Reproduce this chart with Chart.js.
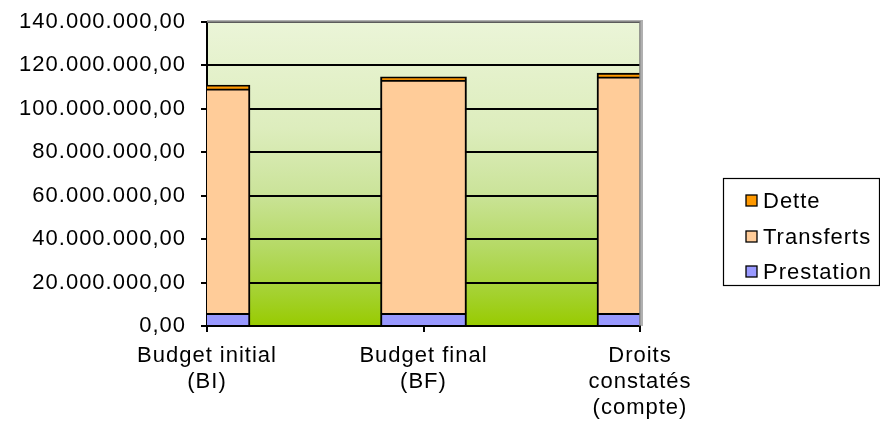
<!DOCTYPE html>
<html>
<head>
<meta charset="utf-8">
<script src="https://cdn.jsdelivr.net/npm/chart.js@4/dist/chart.umd.min.js"></script>
<style>
  html, body { margin: 0; padding: 0; background: #fff; }
  #wrap { width: 880px; height: 422px; position: relative; }
</style>
</head>
<body>
<div id="wrap"><canvas id="c" width="880" height="422"></canvas></div>
<script>
const categories = [["Budget initial", "(BI)"], ["Budget final", "(BF)"], ["Droits", "constatés", "(compte)"]];
const prestation = [5800000, 5800000, 5800000];
const transferts = [103400000, 107400000, 108900000];
const dette = [1800000, 1500000, 1800000];
const yTicks = [0, 20000000, 40000000, 60000000, 80000000, 100000000, 120000000, 140000000];

const FONT = "'Liberation Sans', Arial, sans-serif";
const SPACING = '1px';

function fmt(v) {
  const s = Math.round(v).toString().replace(/\B(?=(\d{3})+(?!\d))/g, ".");
  return s + ",00";
}

const bgPlugin = {
  id: 'bg',
  beforeUpdate(chart) { chart.ctx.letterSpacing = SPACING; },
  beforeDraw(chart) {
    const { ctx, chartArea: a } = chart;
    ctx.letterSpacing = SPACING;
    const g = ctx.createLinearGradient(0, a.top, 0, a.bottom);
    g.addColorStop(0, '#ebf5d8');
    g.addColorStop(0.35, '#ddedbd');
    g.addColorStop(0.55, '#cce49c');
    g.addColorStop(0.75, '#b4d962');
    g.addColorStop(0.9, '#a3d12c');
    g.addColorStop(1, '#98cb00');
    ctx.save();
    ctx.fillStyle = g;
    ctx.fillRect(a.left, a.top, a.right - a.left, a.bottom - a.top);
    ctx.restore();
  },
  afterDraw(chart) {
    const { ctx, chartArea: a } = chart;
    ctx.save();
    // top / right border with shadow
    ctx.strokeStyle = '#b0b0b0';
    ctx.lineWidth = 2;
    ctx.beginPath();
    ctx.moveTo(a.left, a.top - 1);
    ctx.lineTo(a.right + 2, a.top - 1);
    ctx.lineTo(a.right + 2, a.bottom);
    ctx.stroke();
    ctx.strokeStyle = '#7a7a7a';
    ctx.lineWidth = 1.5;
    ctx.beginPath();
    ctx.moveTo(a.left, a.top);
    ctx.lineTo(a.right, a.top);
    ctx.lineTo(a.right, a.bottom);
    ctx.stroke();

    // legend
    const lx = 723, ly = 178, lw = 156, lh = 107;
    ctx.strokeStyle = '#000';
    ctx.lineWidth = 1.2;
    ctx.strokeRect(lx + 0.5, ly + 0.5, lw, lh);
    const items = chart.data.datasets.slice().reverse();
    const ys = [201, 237, 272];
    ctx.font = '22px ' + FONT;
    ctx.letterSpacing = SPACING;
    ctx.textBaseline = 'middle';
    ctx.textAlign = 'left';
    items.forEach((ds, i) => {
      const y = ys[i];
      ctx.fillStyle = ds.backgroundColor;
      ctx.fillRect(746, y - 6, 11, 11);
      ctx.strokeStyle = '#000';
      ctx.lineWidth = 1.3;
      ctx.strokeRect(746, y - 6, 11, 11);
      ctx.fillStyle = '#000';
      ctx.fillText(ds.label, 763, y + 1);
    });
    ctx.restore();
  }
};

const commonBar = {
  borderColor: '#000',
  borderWidth: 2,
  barThickness: 86,
  clip: 0
};

new Chart(document.getElementById('c'), {
  type: 'bar',
  data: {
    labels: categories,
    datasets: [
      Object.assign({ label: 'Prestation', data: prestation, backgroundColor: '#9999ff' }, commonBar),
      Object.assign({ label: 'Transferts', data: transferts, backgroundColor: '#ffcc99' }, commonBar),
      Object.assign({ label: 'Dette', data: dette, backgroundColor: '#ff9900' }, commonBar)
    ]
  },
  options: {
    responsive: false,
    animation: false,
    layout: { padding: { top: 22, right: 240, left: 0, bottom: 0 } },
    plugins: { legend: { display: false }, tooltip: { enabled: false } },
    scales: {
      x: {
        stacked: true,
        offset: false,
        afterFit(scale) { scale.height = 96; },
        grid: { display: true, drawOnChartArea: false, offset: false, color: '#000', lineWidth: 2, tickLength: 6 },
        border: { display: true, color: '#000', width: 2 },
        ticks: { color: '#000', font: { family: FONT, size: 22, lineHeight: 1.18 }, padding: 11, maxRotation: 0, autoSkip: false }
      },
      y: {
        stacked: true,
        min: 0,
        max: 140000000,
        afterBuildTicks(scale) { scale.ticks = yTicks.map(v => ({ value: v })); },
        afterFit(scale) { scale.width = 207; scale.paddingTop = 0; scale.paddingBottom = 0; },
        grid: { color: '#000', lineWidth: 2, tickLength: 6 },
        border: { display: true, color: '#000', width: 2 },
        ticks: { color: '#000', font: { family: FONT, size: 22 }, padding: 15, callback: v => fmt(v) }
      }
    }
  },
  plugins: [bgPlugin]
});
</script>
</body>
</html>
